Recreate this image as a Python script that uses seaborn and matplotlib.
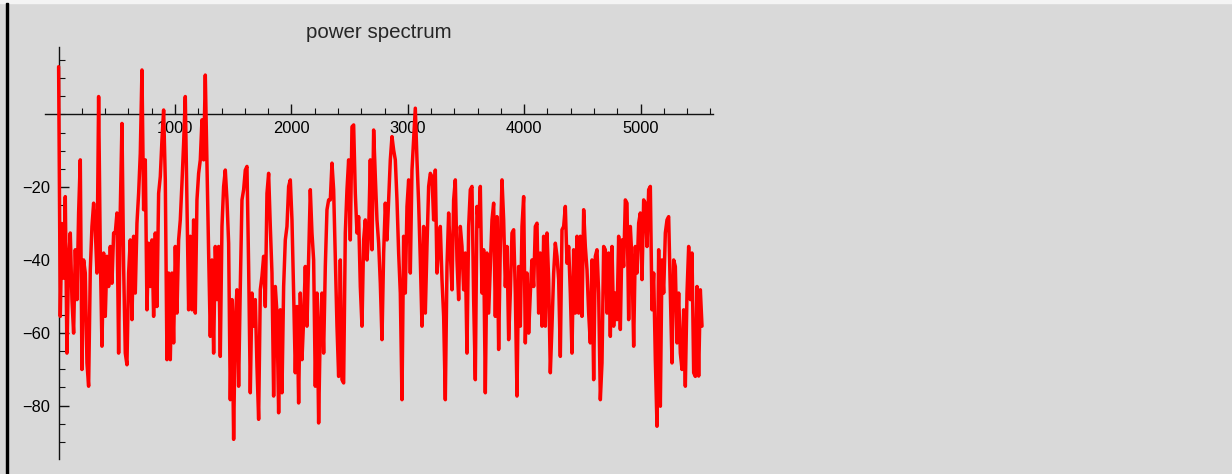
import numpy as np
import pandas as pd
import matplotlib
matplotlib.use("Agg")
import matplotlib.pyplot as plt
from matplotlib.patches import Rectangle
from matplotlib.ticker import FixedLocator, MultipleLocator
import seaborn as sns

# spectrum in dB, one value per frequency bin
bin_width = 14.32
power_db = [
    13.1, -55.5, -30.0, -45.0, -22.6, -65.6, -40.0, -32.6, -50.9, -60.1,
    -37.2, -50.9, -27.0, -12.5, -70.1, -40.0, -43.6, -68.3, -74.7, -42.7,
    -30.8, -24.4, -31.7, -43.6, 4.9, -38.1, -63.7, -38.1, -55.5, -39.0,
    -47.3, -36.3, -46.4, -32.6, -32.6, -27.1, -65.6, -26.2, -2.5, -41.8,
    -65.6, -68.8, -43.6, -34.5, -56.4, -33.5, -49.1, -29.9, -21.7, -10.7,
    12.2, -26.2, -12.5, -53.7, -35.4, -47.3, -34.5, -55.5, -32.6, -52.8,
    -21.7, -17.1, -7.0, 1.2,
    -18.0, -67.4, -43.6, -67.4, -43.6, -62.8, -36.3, -54.6, -34.5, -29.0,
    -18.9, -7.9, 4.9, -24.4, -53.7, -33.5, -53.7, -29.0, -54.6, -23.5,
    -16.2, -12.5, -1.5, -12.5, 10.8, -14.3, -38.1, -61.0, -40.0, -65.6,
    -36.3, -50.9, -36.3, -66.5, -30.8, -19.8, -15.3, -23.5, -35.4, -78.4,
    -50.9, -89.3, -56.4, -48.2, -74.7, -47.3, -23.5, -20.7, -15.3, -14.3,
    -41.8, -76.5, -49.1, -58.2, -50.9, -69.2, -83.8, -48.2, -44.5, -39.0,
    -52.8, -21.7, -16.2,
    -30.8, -43.6, -77.4, -47.3, -54.6, -82.0, -53.7, -76.5, -47.3, -34.5,
    -30.8, -19.8, -18.0, -29.0, -49.1, -71.0, -52.8, -79.3, -49.1, -67.4,
    -56.4, -41.8, -58.2, -40.0, -20.7, -32.6, -40.0, -74.7, -49.1, -84.8,
    -58.2, -49.1, -65.6, -41.8, -26.2, -23.5, -23.5, -13.4, -20.7, -40.0,
    -58.2, -72.0, -40.0, -72.9, -73.8, -32.6, -20.7, -12.5, -34.5, -3.4,
    -2.9, -21.7, -32.6, -28.1, -47.3, -58.2, -34.5, -29.0, -40.0, -32.6,
    -12.5, -37.2, -4.3,
    -17.1, -29.0, -35.4, -46.4, -61.9, -38.1, -24.4, -34.5, -23.5, -12.5,
    -6.1, -9.8, -12.5, -23.5, -38.1, -49.1, -78.4, -33.5, -49.1, -25.3,
    -18.0, -43.6, -15.3, -7.0, 1.7, -12.5, -24.4, -40.0, -58.2, -30.8,
    -54.6, -36.3, -19.8, -16.2, -17.1, -29.0, -15.3, -43.6, -36.3, -30.8,
    -45.4, -55.5, -78.4, -41.8, -27.1, -38.1, -48.2, -23.5, -18.0, -40.0,
    -50.9, -30.8, -36.3, -48.2, -38.1, -65.6, -30.8, -20.7, -19.8, -50.9,
    -72.9, -25.3, -30.8,
    -19.8, -49.1, -37.2, -76.5, -38.1, -54.6, -41.8, -29.0, -24.4, -55.5,
    -28.1, -64.6, -36.3, -18.0, -29.0, -47.3, -36.3, -61.9, -49.1, -32.6,
    -31.7, -49.1, -77.4, -41.8, -58.2, -30.8, -22.6, -62.8, -43.6, -60.1,
    -49.1, -40.0, -47.3, -30.8, -29.9, -54.6, -38.1, -58.2, -33.5, -58.2,
    -32.6, -45.4, -71.0, -58.2, -43.6, -35.4, -39.0, -45.4, -66.5, -31.7,
    -30.8, -25.3, -40.9, -36.3, -49.1, -65.6, -37.2, -54.6, -33.5, -54.6,
    -33.5, -55.5, -26.2, -36.3,
    -42.7, -54.6, -62.8, -40.0, -72.9, -39.0, -37.2, -49.1, -78.4, -68.3,
    -36.3, -37.2, -54.6, -38.1, -61.0, -36.3, -58.2, -49.1, -56.4, -33.5,
    -59.1, -34.5, -41.8, -23.5, -24.4, -56.4, -30.8, -40.0, -63.7, -36.3,
    -43.6, -29.9, -27.1, -45.4, -23.5, -24.4, -36.3, -20.7, -19.8, -53.7,
    -43.6, -67.4, -85.7, -37.2, -80.2, -40.0, -49.1, -32.6, -29.0, -28.1,
    -49.1, -68.3, -40.0, -41.8, -62.8, -49.1, -65.6, -70.1, -53.7, -74.7,
    -49.1, -36.3, -50.9, -38.1, -71.0, -72.0, -47.3, -71.9, -48.2, -58.2,
]
freq = np.arange(len(power_db)) * bin_width

x_major = [1000, 2000, 3000, 4000, 5000]
y_major = [-80, -60, -40, -20]
title = "power spectrum"

sns.set_style("ticks")
plt.rcParams["font.family"] = ["Liberation Sans", "DejaVu Sans"]

W, H = 1232, 474
fig = plt.figure(figsize=(W / 100, H / 100), dpi=100, facecolor="#d9d9d9")
ax = fig.add_axes([45 / W, 15 / H, 668 / W, 412.3 / H])
ax.set_facecolor("none")

df = pd.DataFrame({"freq": freq, "power": power_db})
sns.lineplot(data=df, x="freq", y="power", color="#ff0000", lw=2.5,
             estimator=None, sort=False, ax=ax, zorder=3)

ax.set_xlim(-117, 5622)
ax.set_ylim(-94.7, 18.6)

# axes crossing at the origin, Mathematica style
ax.spines["left"].set_position(("data", 0))
ax.spines["bottom"].set_position(("data", 0))
ax.spines["top"].set_visible(False)
ax.spines["right"].set_visible(False)
for s in ("left", "bottom"):
    ax.spines[s].set_color("#111111")
    ax.spines[s].set_linewidth(1)

ax.xaxis.set_major_locator(FixedLocator(x_major))
ax.xaxis.set_minor_locator(MultipleLocator(200))
ax.yaxis.set_major_locator(FixedLocator(y_major))
ax.yaxis.set_minor_locator(MultipleLocator(5))
ax.tick_params(which="both", direction="in", color="#111111",
               labelcolor="black", labelsize=11.8)
ax.tick_params(which="major", length=7, width=1)
ax.tick_params(which="minor", length=4, width=0.8)
ax.tick_params(axis="x", pad=5)
ax.tick_params(axis="y", pad=6)
ax.set_xlabel("")
ax.set_ylabel("")
ax.set_title(title, fontsize=14.8, pad=6)

# window frame bits from the screenshot
fig.add_artist(Rectangle((0, 1 - 3 / H), 1, 3 / H, transform=fig.transFigure,
                         color="#f4f4f4", zorder=0))
fig.add_artist(Rectangle((5.5 / W, 0), 2 / W, 1 - 3 / H, transform=fig.transFigure,
                         color="black", zorder=5))

fig.savefig("out.png", dpi=100, facecolor=fig.get_facecolor())
